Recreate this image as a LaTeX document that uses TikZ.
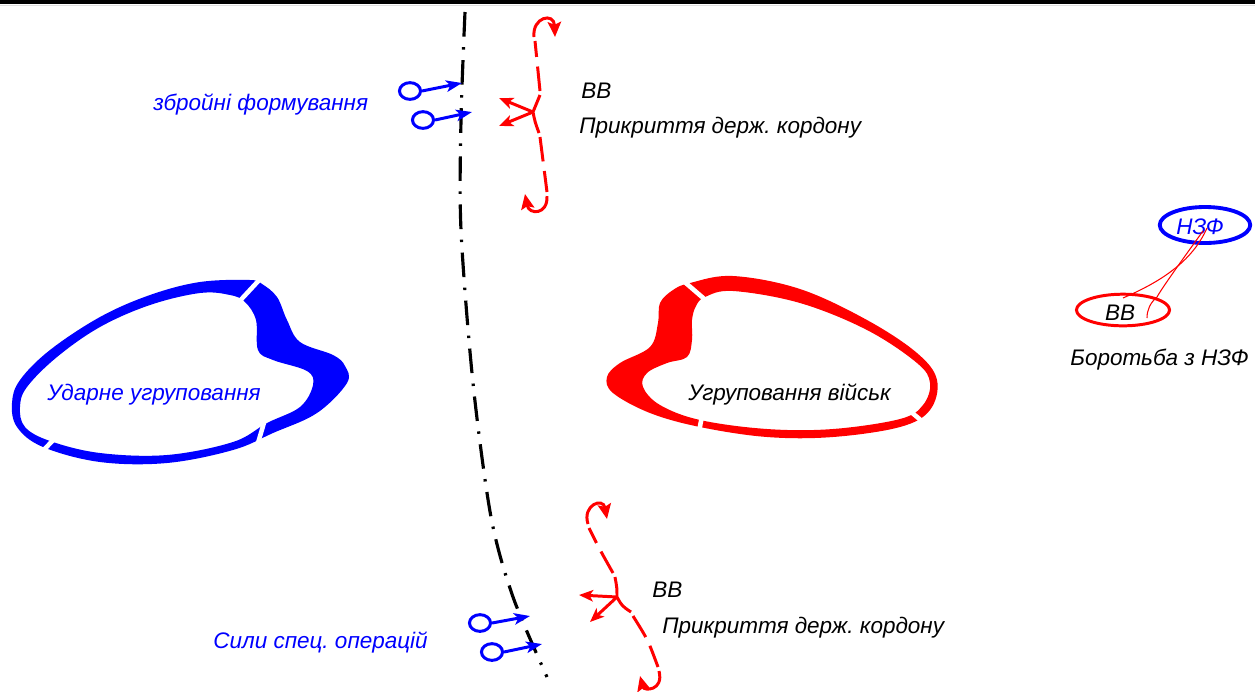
\documentclass[tikz,border=0pt]{standalone}
\usepackage{fontspec}
\setmainfont{Liberation Sans}
\usetikzlibrary{arrows.meta,shapes.geometric}
\definecolor{mblue}{RGB}{0,0,255}
\definecolor{mred}{RGB}{255,0,0}
\frenchspacing
\begin{document}
\begin{tikzpicture}[x=0.02cm,y=-0.02cm,
  txt/.style={font=\itshape\fontsize{12.8}{15}\selectfont, inner sep=0pt, anchor=base west},
  btxt/.style={txt, text=mblue},
  rline/.style={draw=mred, line width=1.7pt},
  rdash/.style={rline, dash pattern=on 14pt off 5.5pt},
  rarr/.style={rline, -{Stealth[length=8pt,width=6.5pt,inset=2pt]}},
  hookarr/.style={rline, -{Stealth[length=8.5pt,width=7.5pt,inset=1.5pt]}},
  barr/.style={draw=mblue, line width=1.7pt, -{Stealth[length=9pt,width=6.5pt,inset=2.2pt]}},
  tail/.style={ellipse, draw=mblue, line width=1.7pt, minimum width=12pt, minimum height=9.5pt, inner sep=0pt},
  gapline/.style={white, line width=2.6pt},
  thinr/.style={draw=mred, line width=0.6pt},
  borderline/.style={black, line width=1.8pt, dash pattern=on 14pt off 6pt on 1.4pt off 6pt}
]
\useasboundingbox (0,0) rectangle (1255,691);
\fill[black] (0,0) rectangle (1255,4);
\draw[gray!25, line width=0.5pt] (0,5.5) -- (1255,5.5);

% border line
\draw[borderline] plot[smooth] coordinates {(465,12) (461,120) (461,230) (473,383) (491,517) (513,597) (547,677)};

% blue grouping
\fill[mblue, even odd rule]
  plot[smooth cycle, tension=0.6] coordinates {(250,280) (200,282) (150,295) (100,317) (50,350) (20,380) (12,403) (17,427) (43,447) (100,462) (167,463) (233,450) (273,433) (317,413) (347,383) (345,366) (333,355) (300,342) (287,320) (277,297) (262,284)}
  plot[smooth cycle, tension=0.6] coordinates {(230,295) (200,293) (150,305) (100,327) (57,357) (27,387) (20,407) (25,427) (50,441) (100,453) (167,455) (233,442) (267,423) (300,407) (313,385) (307,371) (273,360) (258,350) (256,320) (245,302)};
\draw[gapline] (262,277) -- (236,305);
\draw[gapline] (58,435) -- (39,455);
\draw[gapline] (266,416) -- (258,443);
\node[btxt] (udar) at (47,400) {Ударне угруповання};

% red grouping
\fill[mred, even odd rule]
  plot[smooth cycle, tension=0.6] coordinates {(690,283) (733,276) (800,289) (867,320) (917,353) (937,380) (930,410) (900,427) (833,437) (767,437) (700,427) (650,413) (613,393) (607,377) (620,363) (650,347) (658,323) (660,303) (673,290)}
  plot[smooth cycle, tension=0.6] coordinates {(705,297) (733,291) (800,303) (867,330) (917,363) (930,383) (923,405) (900,419) (833,429) (767,429) (700,420) (660,405) (643,387) (647,373) (667,363) (687,357) (692,340) (692,320) (696,306)};
\draw[gapline] (680,278) -- (709,303);
\draw[gapline] (702,416) -- (697,442);
\draw[gapline] (904,406) -- (923,422);
\node[txt] (ugr) at (688,400) {Угруповання військ};

% top: armed formations
\node[tail] (t1) at (410,91) {};
\node[tail] (t2) at (423,120) {};
\coordinate (a1) at (462,83);
\coordinate (a2) at (472,112);
\draw[barr] (t1.east) -- (a1);
\draw[barr] (t2.east) -- (a2);
\node[btxt] (zbr) at (153,110) {збройні формування};

% top: BB cover
\coordinate (j1) at (533,112);
\coordinate (j1a) at (540,95);
\coordinate (j1b) at (539,133);
\coordinate (h1a) at (534,37);
\coordinate (h1b) at (555,37);
\coordinate (h1c) at (547,196);
\coordinate (h1d) at (525,194);
\coordinate (y1a) at (499,98);
\coordinate (y1b) at (499,126);
\draw[rline] (j1a) .. controls (537,104) .. (j1) .. controls (535,122) .. (j1b);
\draw[rarr] (j1) -- (y1a);
\draw[rarr] (j1) -- (y1b);
\draw[rdash] (540,91) -- (535,41);
\draw[hookarr] (h1a) .. controls (532,17) and (554,12) .. (h1b);
\draw[rdash] (540,137) -- (547,192);
\draw[hookarr] (h1c) .. controls (548,215) and (529,215) .. (h1d);
\node[txt] (vv1) at (581,98) {ВВ};
\node[txt] (pk1) at (579,133) {Прикриття держ. кордону};

% bottom: special operations forces
\node[tail] (t3) at (480,623) {};
\node[tail] (t4) at (492,652) {};
\coordinate (a3) at (530,616);
\coordinate (a4) at (542,644);
\draw[barr] (t3.east) -- (a3);
\draw[barr] (t4.east) -- (a4);
\node[btxt] (sso) at (213,648) {Сили спец. операцій};

% bottom: BB cover
\coordinate (j2) at (617,597);
\coordinate (j2a) at (615,577);
\coordinate (j2b) at (631,612);
\coordinate (y2a) at (579,595);
\coordinate (y2b) at (590,622);
\coordinate (h2a) at (588,524);
\coordinate (h2b) at (607,519);
\coordinate (h2c) at (659,671);
\coordinate (h2d) at (640,676);
\draw[rline] (j2a) .. controls (617,588) .. (j2) .. controls (622,606) .. (j2b);
\draw[rarr] (j2) -- (y2a);
\draw[rarr] (j2) -- (y2b);
\draw[rdash] (613,573) .. controls (600,550) .. (589,528);
\draw[hookarr] (h2a) .. controls (582,505) and (603,497) .. (h2b);
\draw[rdash] (633,616) .. controls (648,640) .. (658,667);
\draw[hookarr] (h2c) .. controls (664,691) and (644,691) .. (h2d);
\node[txt] (vv2) at (652,597) {ВВ};
\node[txt] (pk2) at (662,633) {Прикриття держ. кордону};

% NZF
\node[ellipse, draw=mblue, line width=2.2pt, minimum width=51.5pt, minimum height=20.5pt, inner sep=0pt] (nzf) at (1205,225) {};
\node[font=\itshape\fontsize{12.8}{15}\selectfont, text=mblue, inner sep=0pt] (nzft) at (1200,227) {НЗФ};
\node[ellipse, draw=mred, line width=1.7pt, minimum width=53pt, minimum height=18pt, inner sep=0pt] (vvz) at (1123,310) {};
\node[font=\itshape\fontsize{12.8}{15}\selectfont, inner sep=0pt] (vvzt) at (1120,313) {ВВ};
\coordinate (n1) at (1207,228);
\coordinate (n2) at (1203,231);
\coordinate (m1) at (1123,298);
\coordinate (m2) at (1147,318);
\draw[thinr] (n1) .. controls (1192,262) and (1160,282) .. (m1);
\draw[thinr] (n2) .. controls (1182,260) and (1162,288) .. (1157,297) .. controls (1150,303) and (1147,310) .. (m2);
\node[txt] (bor) at (1070,365) {Боротьба з НЗФ};
\end{tikzpicture}
\end{document}
